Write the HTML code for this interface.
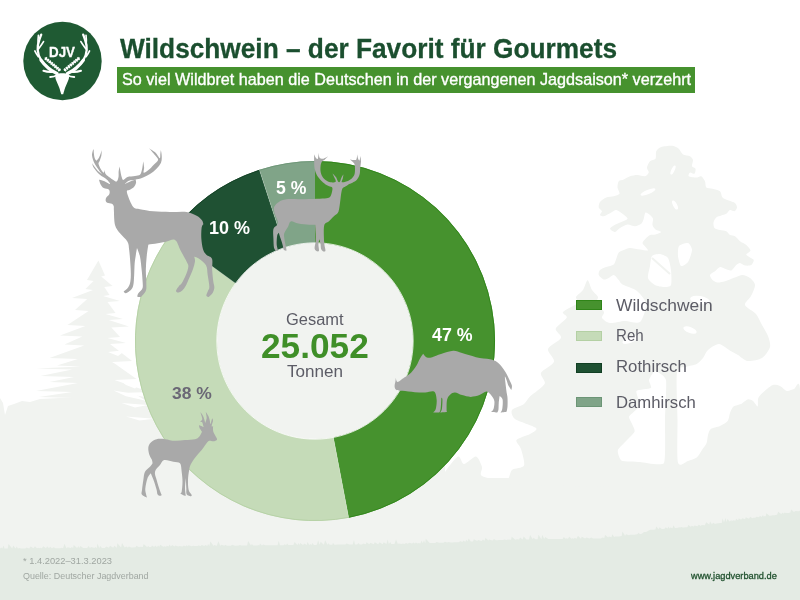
<!DOCTYPE html>
<html lang="de"><head><meta charset="utf-8"><title>Wildschwein – der Favorit für Gourmets</title>
<style>
html,body{margin:0;padding:0;}
body{width:800px;height:600px;overflow:hidden;position:relative;background:#fff;font-family:"Liberation Sans",sans-serif;}
svg.g{position:absolute;left:0;top:0;}
.t{position:absolute;white-space:nowrap;line-height:1;margin:0;transform-origin:0 0;}
.title{left:119px;top:31px;font-size:28px;font-weight:bold;color:#1b4f2f;letter-spacing:-0.2px;}
.bar{position:absolute;left:117px;top:67px;width:578px;height:26px;background:#46922e;}
.sub{left:122px;top:71px;font-size:17px;color:#fff;}
.pct{font-size:17px;font-weight:bold;color:#fff;}
.leg{font-size:18px;color:#5a5a64;left:615px;}
.sw{position:absolute;left:576px;width:26px;height:10px;}
.foot{font-size:10.5px;color:#9aa39c;left:23px;}
</style></head><body>
<svg class="g" width="800" height="600" viewBox="0 0 800 600">
<rect x="0" y="478" width="800" height="122" fill="#f1f3f0"/>
<path d="M0.0,398.0 L3.0,403.0 L5.0,415.0 L8.0,406.0 L14.0,404.0 L22.0,401.0 L30.0,402.0 L40.0,399.0 L60.0,398.0 L100.0,398.0 L140.0,398.0 L200.0,400.0 L445.0,400.0 L445.0,480.0 L0.0,480.0Z" fill="#f1f3f0"/>
<path d="M98.4,260.5 L105.0,275.5 L101.2,276.5 L112.5,286.0 L104.3,287.0 L109.5,295.0 L103.1,296.0 L120.0,301.0 L107.5,302.0 L115.5,313.0 L105.6,314.0 L123.0,319.0 L108.7,320.0 L129.0,326.5 L111.3,327.5 L120.0,337.0 L107.5,338.0 L126.0,343.0 L110.0,344.0 L132.0,361.0 L112.5,362.0 L136.5,379.0 L114.4,380.0 L150.0,392.0 L120.1,393.0 L158.0,399.0 L123.4,400.0 L158.0,402.0 L39.0,402.0 L73.5,398.0 L39.0,397.0 L72.2,392.0 L36.0,391.0 L77.9,383.0 L49.5,382.0 L74.1,377.0 L40.5,376.0 L72.2,369.5 L36.0,368.5 L81.0,366.5 L57.0,365.5 L77.9,359.0 L49.5,358.0 L84.2,345.5 L64.5,344.5 L82.3,336.5 L60.0,335.5 L85.4,326.0 L67.5,325.0 L88.6,311.0 L75.0,310.0 L87.3,299.0 L72.0,298.0 L93.0,290.0 L85.5,289.0 L93.6,281.0 L87.0,280.0Z" fill="#f1f3f0"/>
<path d="M121.5,381.6 L144.0,380.5 L135.0,388.4 L126.0,385.0Z" fill="#ffffff"/>
<path d="M113.6,390.6 L135.0,394.0 L146.0,400.8 L126.0,396.3Z" fill="#ffffff"/>
<path d="M121.5,403.0 L148.0,405.0 L135.0,407.5Z" fill="#ffffff"/>
<path d="M126.0,416.5 L154.0,418.8 L139.5,420.6Z" fill="#ffffff"/>
<path d="M108.0,352.0 L126.0,350.0 L118.0,356.0Z" fill="#ffffff"/>
<path d="M112.0,362.0 L132.0,362.5 L122.0,366.5Z" fill="#ffffff"/>
<path d="M444.50,482.00 C397.10,480.80 442.70,476.40 444.50,473.00 C446.30,469.60 455.40,457.70 458.00,456.50 C460.60,455.30 461.60,464.00 464.00,464.00 C466.40,464.00 473.60,456.10 476.00,456.50 C478.40,456.90 481.20,464.40 482.00,467.00 C482.80,469.60 478.80,474.20 482.00,476.00 C485.20,477.80 502.00,481.30 506.00,480.50 C510.00,479.70 509.60,472.00 512.00,470.00 C514.40,468.00 522.80,468.30 524.00,465.50 C525.20,462.70 522.00,452.40 521.00,449.00 C520.00,445.60 515.30,442.00 516.50,440.00 C517.70,438.00 527.40,435.60 530.00,434.00 C532.60,432.40 538.00,430.00 536.00,428.00 C534.00,426.00 518.20,421.40 515.00,419.00 C511.80,416.60 510.80,412.00 512.00,410.00 C513.20,408.00 521.60,405.79 524.00,404.00 C526.40,402.21 527.24,399.29 530.00,396.60 C532.76,393.91 543.23,386.97 544.70,383.80 C546.17,380.63 539.76,375.75 541.00,372.80 C542.24,369.85 553.07,364.87 554.00,361.70 C554.93,358.53 547.07,352.16 548.00,349.00 C548.93,345.84 559.97,340.71 561.00,338.00 C562.03,335.29 554.94,331.41 555.70,328.70 C556.46,325.99 565.73,319.93 566.70,317.70 C567.67,315.47 561.53,313.96 563.00,312.00 C564.47,310.04 575.97,305.00 577.70,303.00 C579.43,301.00 575.29,298.73 576.00,297.00 C576.71,295.27 581.45,292.23 583.00,290.00 C584.55,287.77 586.40,280.30 587.60,280.30 C588.80,280.30 590.61,287.77 592.00,290.00 C593.39,292.23 597.47,295.27 598.00,297.00 C598.53,298.73 595.20,301.00 596.00,303.00 C596.80,305.00 603.20,310.00 604.00,312.00 C604.80,314.00 601.20,316.53 602.00,318.00 C602.80,319.47 606.93,322.60 610.00,323.00 C613.07,323.40 621.00,321.13 625.00,321.00 C629.00,320.87 637.20,324.27 640.00,322.00 C642.80,319.73 646.40,308.13 646.00,304.00 C645.60,299.87 640.13,293.60 637.00,291.00 C633.87,288.40 624.93,285.97 622.50,284.50 C620.07,283.03 619.92,281.27 618.75,280.00 C617.58,278.73 615.08,275.27 613.75,275.00 C612.42,274.73 610.08,277.40 608.75,278.00 C607.42,278.60 605.08,279.90 603.75,279.50 C602.42,279.10 599.25,276.27 598.75,275.00 C598.25,273.73 599.00,271.07 600.00,270.00 C601.00,268.93 604.42,267.73 606.25,267.00 C608.08,266.27 612.42,265.60 613.75,264.50 C615.08,263.40 615.58,260.35 616.25,258.75 C616.92,257.15 617.75,253.67 618.75,252.50 C619.75,251.33 622.25,250.60 623.75,250.00 C625.25,249.40 627.83,248.07 630.00,248.00 C632.17,247.93 637.60,249.17 640.00,249.50 C642.40,249.83 647.27,250.83 648.00,250.50 C648.73,250.17 646.23,248.00 645.50,247.00 C644.77,246.00 642.50,244.10 642.50,243.00 C642.50,241.90 644.50,239.82 645.50,238.75 C646.50,237.68 648.67,235.57 650.00,235.00 C651.33,234.43 654.00,234.90 655.50,234.50 C657.00,234.10 661.25,232.67 661.25,232.00 C661.25,231.33 656.67,230.43 655.50,229.50 C654.33,228.57 652.83,226.43 652.50,225.00 C652.17,223.57 653.33,220.08 653.00,218.75 C652.67,217.42 651.00,215.83 650.00,215.00 C649.00,214.17 646.33,212.00 645.50,212.50 C644.67,213.00 644.32,217.25 643.75,218.75 C643.18,220.25 642.42,222.75 641.25,223.75 C640.08,224.75 636.83,226.15 635.00,226.25 C633.17,226.35 629.50,224.27 627.50,224.50 C625.50,224.73 621.67,227.00 620.00,228.00 C618.33,229.00 616.33,231.90 615.00,232.00 C613.67,232.10 610.17,229.62 610.00,228.75 C609.83,227.88 612.42,226.33 613.75,225.50 C615.08,224.67 618.17,223.40 620.00,222.50 C621.83,221.60 627.17,219.92 627.50,218.75 C627.83,217.58 624.00,214.92 622.50,213.75 C621.00,212.58 617.75,210.17 616.25,210.00 C614.75,209.83 612.92,211.67 611.25,212.50 C609.58,213.33 605.25,215.92 603.75,216.25 C602.25,216.58 600.23,215.67 600.00,215.00 C599.77,214.33 602.17,212.25 602.00,211.25 C601.83,210.25 599.02,208.73 598.75,207.50 C598.48,206.27 599.00,203.33 600.00,202.00 C601.00,200.67 604.42,198.27 606.25,197.50 C608.08,196.73 611.98,196.75 613.75,196.25 C615.52,195.75 619.00,194.92 619.50,193.75 C620.00,192.58 617.60,189.17 617.50,187.50 C617.40,185.83 617.92,182.32 618.75,181.25 C619.58,180.18 622.25,180.17 623.75,179.50 C625.25,178.83 628.17,176.85 630.00,176.25 C631.83,175.65 635.50,175.00 637.50,175.00 C639.50,175.00 643.50,176.58 645.00,176.25 C646.50,175.92 648.48,173.67 648.75,172.50 C649.02,171.33 646.83,169.00 647.00,167.50 C647.17,166.00 648.87,162.42 650.00,161.25 C651.13,160.08 654.67,160.08 655.50,158.75 C656.33,157.42 655.48,152.82 656.25,151.25 C657.02,149.68 659.08,147.73 661.25,147.00 C663.42,146.27 670.17,145.52 672.50,145.75 C674.83,145.98 677.35,147.58 678.75,148.75 C680.15,149.92 681.50,153.50 683.00,154.50 C684.50,155.50 688.67,155.52 690.00,156.25 C691.33,156.98 692.73,158.67 693.00,160.00 C693.27,161.33 691.67,165.08 692.00,166.25 C692.33,167.42 695.17,167.75 695.50,168.75 C695.83,169.75 695.23,173.25 694.50,173.75 C693.77,174.25 690.77,172.17 690.00,172.50 C689.23,172.83 687.92,175.58 688.75,176.25 C689.58,176.92 694.58,177.50 696.25,177.50 C697.92,177.50 700.08,175.75 701.25,176.25 C702.42,176.75 704.33,179.75 705.00,181.25 C705.67,182.75 705.25,186.50 706.25,187.50 C707.25,188.50 710.67,188.25 712.50,188.75 C714.33,189.25 718.67,190.08 720.00,191.25 C721.33,192.42 721.33,196.27 722.50,197.50 C723.67,198.73 727.08,199.77 728.75,200.50 C730.42,201.23 733.90,202.07 735.00,203.00 C736.10,203.93 737.07,206.40 737.00,207.50 C736.93,208.60 735.43,210.92 734.50,211.25 C733.57,211.58 731.10,209.67 730.00,210.00 C728.90,210.33 727.42,213.02 726.25,213.75 C725.08,214.48 722.58,215.00 721.25,215.50 C719.92,216.00 717.28,216.57 716.25,217.50 C715.22,218.43 713.73,221.10 713.50,222.50 C713.27,223.90 713.63,227.00 714.50,228.00 C715.37,229.00 718.43,229.57 720.00,230.00 C721.57,230.43 724.92,230.58 726.25,231.25 C727.58,231.92 728.83,234.33 730.00,235.00 C731.17,235.67 733.67,235.42 735.00,236.25 C736.33,237.08 738.50,240.08 740.00,241.25 C741.50,242.42 744.85,243.77 746.25,245.00 C747.65,246.23 750.50,249.23 750.50,250.50 C750.50,251.77 746.32,253.57 746.25,254.50 C746.18,255.43 749.00,256.77 750.00,257.50 C751.00,258.23 753.58,259.00 753.75,260.00 C753.92,261.00 752.42,264.27 751.25,265.00 C750.08,265.73 746.50,265.77 745.00,265.50 C743.50,265.23 741.17,263.07 740.00,263.00 C738.83,262.93 737.42,264.00 736.25,265.00 C735.08,266.00 732.75,270.00 731.25,270.50 C729.75,271.00 726.50,269.22 725.00,268.75 C723.50,268.28 721.33,266.67 720.00,267.00 C718.67,267.33 716.33,270.18 715.00,271.25 C713.67,272.32 710.33,273.83 710.00,275.00 C709.67,276.17 711.50,279.00 712.50,280.00 C713.50,281.00 715.83,282.33 717.50,282.50 C719.17,282.67 722.67,281.92 725.00,281.25 C727.33,280.58 732.67,278.33 735.00,277.50 C737.33,276.67 740.50,274.93 742.50,275.00 C744.50,275.07 748.33,276.67 750.00,278.00 C751.67,279.33 754.87,282.60 755.00,285.00 C755.13,287.40 752.33,293.33 751.00,296.00 C749.67,298.67 744.33,302.60 745.00,305.00 C745.67,307.40 753.73,311.33 756.00,314.00 C758.27,316.67 760.40,322.07 762.00,325.00 C763.60,327.93 766.93,333.07 768.00,336.00 C769.07,338.93 770.80,344.07 770.00,347.00 C769.20,349.93 764.99,356.13 762.00,358.00 C759.01,359.87 750.80,361.40 747.60,361.00 C744.40,360.60 740.27,356.33 738.00,355.00 C735.73,353.67 733.13,352.47 730.60,351.00 C728.07,349.53 722.01,344.13 719.00,344.00 C715.99,343.87 710.13,348.13 708.00,350.00 C705.87,351.87 704.51,356.13 703.00,358.00 C701.49,359.87 698.97,362.80 696.70,364.00 C694.43,365.20 688.63,365.87 686.00,367.00 C683.37,368.13 678.13,365.43 677.00,372.50 C675.87,379.57 677.37,407.99 677.50,420.00 C677.63,432.01 676.60,457.13 678.00,462.60 C679.40,468.07 685.51,461.68 688.00,461.00 C690.49,460.32 694.83,458.97 696.70,457.50 C698.57,456.03 700.68,451.93 702.00,450.00 C703.32,448.07 705.80,445.00 706.60,443.00 C707.40,441.00 707.44,436.87 708.00,435.00 C708.56,433.13 709.20,430.20 710.80,429.00 C712.40,427.80 717.73,427.11 720.00,426.00 C722.27,424.89 726.47,422.43 727.80,420.70 C729.13,418.97 729.24,414.89 730.00,413.00 C730.76,411.11 732.03,407.70 733.50,406.50 C734.97,405.30 739.12,404.95 741.00,404.00 C742.88,403.05 746.00,399.80 747.60,399.40 C749.20,399.00 751.67,400.05 753.00,401.00 C754.33,401.95 756.93,406.77 757.60,406.50 C758.27,406.23 757.63,400.53 758.00,399.00 C758.37,397.47 759.20,396.33 760.40,395.00 C761.60,393.67 765.32,390.33 767.00,389.00 C768.68,387.67 771.27,385.40 773.00,385.00 C774.73,384.60 778.13,385.20 780.00,386.00 C781.87,386.80 785.13,390.60 787.00,391.00 C788.87,391.40 792.27,389.20 794.00,389.00 C795.73,388.80 799.20,377.10 800.00,389.50 C800.80,401.90 847.40,469.67 800.00,482.00 C752.60,494.33 491.90,483.20 444.50,482.00Z" fill="#f1f3f0"/>
<path d="M655.00,371.00 C653.58,371.00 649.33,378.58 649.00,380.00 C648.67,381.42 652.05,387.08 651.00,388.00 C649.95,388.92 637.32,389.52 636.40,391.00 C635.48,392.48 640.62,403.65 640.00,405.80 C639.38,407.95 629.45,414.66 629.00,416.80 C628.55,418.94 635.52,428.75 634.60,431.50 C633.68,434.25 619.08,447.36 618.00,449.80 C616.92,452.24 619.87,459.78 621.70,460.80 C623.53,461.82 636.48,461.82 640.00,462.00 C643.52,462.18 661.92,466.50 664.00,463.00 C666.08,459.50 664.83,426.92 665.00,420.00 C665.17,413.08 666.83,384.08 666.00,380.00 C665.17,375.92 656.42,371.00 655.00,371.00Z" fill="#ffffff"/>
<ellipse cx="673" cy="170" rx="5" ry="1.6" transform="rotate(-65 673 170)" fill="#ffffff"/>
<ellipse cx="648" cy="192" rx="8" ry="2.2" transform="rotate(-22 648 192)" fill="#ffffff"/>
<ellipse cx="675" cy="205" rx="5" ry="2" transform="rotate(62 675 205)" fill="#ffffff"/>
<ellipse cx="690" cy="330" rx="7" ry="3" transform="rotate(20 690 330)" fill="#ffffff"/>
<ellipse cx="700" cy="300" rx="10" ry="4" transform="rotate(10 700 300)" fill="#ffffff"/>
<ellipse cx="630" cy="340" rx="8" ry="3" transform="rotate(-20 630 340)" fill="#ffffff"/>
<path d="M652.00,256.00 C653.17,254.60 658.13,253.77 660.00,254.00 C661.87,254.23 666.72,256.13 668.00,258.00 C669.28,259.87 670.65,266.85 671.00,270.00 C671.35,273.15 671.82,283.02 671.00,285.00 C670.18,286.98 665.87,287.00 664.00,287.00 C662.13,287.00 656.87,286.05 655.00,285.00 C653.13,283.95 648.58,280.22 648.00,278.00 C647.42,275.78 649.53,268.57 650.00,266.00 C650.47,263.43 650.83,257.40 652.00,256.00Z" fill="#ffffff"/>
<path d="M652,258 L670,274" stroke="#f1f3f0" stroke-width="2" fill="none"/>
<path d="M679.00,246.00 C680.17,244.48 686.48,242.53 688.00,243.00 C689.52,243.47 692.00,247.78 692.00,250.00 C692.00,252.22 689.28,260.13 688.00,262.00 C686.72,263.87 682.17,266.70 681.00,266.00 C679.83,265.30 678.23,258.33 678.00,256.00 C677.77,253.67 677.83,247.52 679.00,246.00Z" fill="#ffffff"/>
<path d="M0.0,600.0 L0.0,548.5 L1.2,547.5 L2.3,548.5 L3.6,545.5 L4.5,548.5 L6.0,548.5 L7.7,548.5 L8.5,544.0 L12.2,548.4 L13.3,545.4 L15.5,548.4 L16.8,546.4 L17.9,548.4 L19.4,547.9 L21.2,548.4 L22.5,548.4 L23.4,548.4 L24.3,548.4 L25.4,548.4 L26.5,547.4 L29.2,548.4 L30.6,546.4 L33.5,548.3 L34.9,546.3 L37.0,548.3 L38.5,547.8 L39.2,548.3 L40.3,547.8 L41.9,548.3 L43.3,546.3 L46.0,548.3 L47.1,546.3 L49.0,548.3 L50.1,546.8 L52.0,548.2 L53.5,547.2 L55.7,548.2 L57.2,548.2 L60.2,548.2 L61.5,547.7 L63.0,548.2 L64.5,543.7 L66.4,548.2 L67.7,547.2 L70.9,548.1 L71.8,547.1 L73.1,548.1 L73.7,545.1 L77.1,548.1 L78.5,546.1 L79.1,548.1 L80.5,546.1 L83.3,548.1 L84.5,548.1 L87.2,548.1 L88.5,546.1 L90.0,548.0 L91.1,547.0 L94.5,548.0 L95.1,547.0 L96.8,548.0 L97.4,543.5 L99.3,548.0 L100.2,546.0 L101.9,548.0 L103.5,548.0 L104.8,547.9 L106.3,546.4 L109.0,547.8 L110.0,545.8 L113.2,547.7 L114.4,545.7 L116.7,547.7 L117.4,543.2 L121.1,547.6 L122.0,543.1 L124.7,547.5 L126.2,546.5 L127.8,547.4 L128.9,546.4 L131.2,547.4 L132.6,547.4 L135.6,547.3 L136.3,545.8 L139.2,547.2 L139.8,546.7 L142.7,547.1 L143.7,544.1 L147.0,547.1 L148.4,546.1 L149.1,547.0 L150.7,547.0 L151.2,547.0 L152.0,545.5 L154.3,546.9 L155.1,545.4 L156.8,546.9 L158.2,545.4 L159.4,546.8 L160.1,544.8 L163.4,546.7 L164.4,546.2 L166.0,546.7 L166.8,545.7 L168.5,546.6 L169.7,544.6 L170.7,546.6 L172.3,545.1 L174.4,546.5 L175.4,545.5 L178.5,546.4 L179.2,545.9 L182.4,546.4 L183.9,545.4 L185.5,546.3 L186.9,545.3 L187.6,546.2 L188.5,545.2 L191.7,546.2 L193.2,545.7 L194.5,546.1 L196.0,546.1 L197.4,546.1 L198.4,545.6 L200.7,546.0 L201.8,545.0 L204.3,546.0 L205.3,545.0 L207.3,545.9 L208.1,543.9 L209.3,545.9 L210.4,541.4 L213.7,545.9 L214.3,544.9 L216.8,545.8 L218.4,541.3 L220.2,545.8 L221.7,544.8 L224.4,545.8 L225.1,544.8 L227.0,545.7 L228.5,545.7 L230.7,545.7 L232.2,544.7 L234.9,545.7 L235.6,545.7 L238.8,545.6 L239.9,545.1 L241.4,545.6 L242.5,545.6 L244.4,545.6 L245.4,545.6 L247.1,545.5 L248.1,541.0 L251.0,545.5 L251.8,544.0 L253.3,545.5 L254.1,545.5 L257.3,545.4 L258.7,544.9 L259.3,545.4 L260.0,543.4 L262.0,545.4 L263.2,544.4 L265.3,545.3 L266.4,545.3 L269.3,545.3 L270.7,545.3 L273.2,545.3 L273.9,545.3 L275.4,545.2 L276.8,545.2 L277.6,545.2 L278.7,540.7 L280.0,545.2 L280.9,545.2 L283.6,545.2 L284.5,544.2 L286.1,545.1 L287.1,543.6 L288.4,545.1 L289.7,545.1 L291.3,545.1 L292.5,545.1 L293.4,545.1 L294.6,542.1 L297.4,545.0 L298.6,543.0 L299.5,545.0 L300.2,543.0 L303.1,545.0 L304.1,543.5 L306.8,544.9 L307.4,541.9 L309.4,544.9 L310.7,543.9 L311.5,544.9 L312.4,542.9 L313.9,544.9 L315.4,544.9 L316.8,544.8 L318.2,540.3 L319.5,544.8 L320.7,541.8 L323.8,544.8 L325.2,540.3 L327.5,544.7 L328.6,543.2 L329.7,544.7 L330.8,544.7 L332.3,544.7 L333.0,542.7 L334.5,544.7 L335.8,544.7 L337.5,544.6 L338.4,544.6 L341.6,544.6 L343.1,544.6 L345.3,544.5 L346.5,543.5 L349.3,544.5 L350.9,544.5 L352.7,544.5 L354.0,540.0 L355.0,544.5 L356.5,544.5 L357.1,544.4 L358.6,542.9 L359.6,544.4 L360.4,544.4 L362.0,544.4 L363.1,543.4 L365.8,544.3 L366.6,542.3 L369.3,544.3 L370.4,542.8 L373.7,544.3 L374.8,542.3 L378.1,544.2 L379.6,542.2 L382.5,544.2 L383.8,542.2 L386.4,544.1 L387.7,539.6 L388.8,544.1 L390.3,542.1 L391.2,544.1 L392.3,544.1 L394.4,544.1 L396.0,539.6 L397.9,544.0 L398.6,543.5 L401.7,543.9 L402.9,543.4 L404.5,543.9 L406.0,542.9 L407.9,543.8 L409.2,542.8 L412.0,543.6 L413.5,542.6 L414.8,543.6 L415.9,542.6 L417.7,543.5 L418.9,543.0 L420.3,543.4 L421.7,540.4 L422.7,543.3 L424.0,540.3 L425.2,543.2 L425.8,538.7 L429.7,543.1 L431.2,543.1 L432.7,543.0 L433.8,543.0 L435.3,542.9 L436.5,541.9 L439.2,542.8 L440.8,542.8 L443.3,542.7 L444.8,541.7 L447.3,542.6 L448.1,542.1 L451.1,542.4 L452.6,542.4 L453.7,542.3 L454.6,542.3 L456.7,542.2 L457.5,542.2 L459.4,542.0 L460.0,541.0 L462.5,541.9 L463.1,540.4 L465.4,541.7 L466.4,539.7 L467.6,541.6 L468.6,538.6 L470.9,541.5 L472.4,541.5 L473.1,541.3 L473.8,539.3 L477.3,541.1 L478.0,540.1 L481.7,540.9 L483.0,539.4 L484.6,540.8 L485.5,537.8 L488.3,540.6 L489.0,539.6 L492.7,540.4 L493.9,538.9 L496.0,540.2 L497.3,540.2 L499.3,540.0 L500.6,540.0 L503.0,539.9 L504.2,539.4 L506.8,539.9 L507.6,539.4 L511.0,539.8 L511.7,536.8 L515.4,539.7 L516.9,539.2 L519.0,539.6 L520.1,537.6 L522.6,539.5 L523.7,536.5 L526.5,539.5 L527.2,539.5 L529.0,539.4 L530.1,534.9 L532.8,539.3 L533.5,537.8 L535.5,539.3 L537.0,539.3 L537.6,539.2 L538.5,534.7 L541.4,539.2 L542.3,534.7 L544.2,539.1 L545.2,537.1 L548.2,539.0 L549.2,539.0 L552.3,539.0 L553.1,539.0 L555.8,538.9 L557.0,538.9 L560.1,538.9 L560.9,538.9 L562.6,538.9 L563.8,536.9 L565.5,538.8 L566.7,538.3 L567.9,538.8 L569.3,536.8 L571.3,538.8 L572.4,538.3 L573.8,538.8 L574.7,537.8 L576.5,538.7 L578.0,535.7 L580.9,538.7 L581.8,536.7 L585.1,538.6 L586.4,537.6 L589.6,538.6 L591.1,537.6 L593.3,538.6 L594.5,538.6 L597.1,538.5 L597.8,538.5 L601.0,538.4 L602.1,537.4 L604.3,538.0 L605.1,535.0 L608.2,537.6 L608.9,536.6 L611.5,537.2 L612.2,534.2 L614.2,536.9 L614.9,536.4 L618.2,536.5 L618.8,536.5 L621.7,536.1 L622.4,531.6 L625.1,535.7 L626.0,534.2 L629.2,535.2 L629.9,534.7 L633.3,534.8 L634.6,534.8 L637.2,534.3 L638.8,532.8 L639.7,534.0 L641.2,534.0 L642.8,532.9 L643.9,531.9 L645.1,532.0 L646.1,532.0 L649.2,530.3 L650.2,529.8 L652.4,529.8 L653.5,529.8 L655.4,529.6 L656.3,526.6 L658.6,529.3 L659.6,527.3 L661.7,529.1 L663.0,529.1 L664.6,528.8 L665.7,527.3 L667.5,528.6 L668.4,526.6 L669.5,528.4 L670.4,527.4 L672.5,528.2 L673.6,525.2 L674.9,528.0 L675.6,528.0 L677.9,527.8 L679.1,527.3 L680.2,527.6 L681.3,527.1 L682.7,527.4 L683.7,527.4 L685.5,527.2 L686.8,527.2 L687.6,527.0 L688.2,525.0 L690.8,526.7 L691.7,525.7 L693.8,526.5 L694.6,525.5 L697.4,526.2 L698.9,524.7 L700.8,525.9 L701.7,524.9 L704.8,525.3 L706.2,522.3 L709.2,524.6 L710.1,521.6 L711.9,524.2 L713.1,522.7 L714.7,523.8 L715.4,523.8 L717.8,523.3 L719.0,523.3 L719.8,523.0 L721.1,523.0 L721.9,522.7 L722.5,518.2 L724.0,522.4 L725.5,517.9 L726.5,522.0 L727.5,519.0 L729.7,521.5 L731.3,520.0 L731.8,521.2 L733.2,520.2 L735.4,520.7 L736.1,518.7 L738.1,520.3 L738.8,518.3 L741.1,519.8 L742.2,518.3 L745.0,519.3 L745.8,517.3 L748.9,518.7 L750.3,516.7 L752.3,518.2 L753.2,517.7 L755.3,517.8 L756.4,516.8 L759.1,517.3 L759.9,515.8 L761.5,516.9 L763.0,514.9 L763.6,516.6 L764.9,516.1 L765.7,516.3 L766.4,513.3 L769.4,515.8 L770.3,515.8 L772.9,515.3 L774.4,515.3 L777.1,514.7 L778.1,511.7 L781.2,514.0 L782.8,512.5 L783.2,513.7 L784.2,512.7 L787.6,513.0 L788.6,513.0 L790.4,512.5 L791.1,509.5 L794.0,512.0 L795.3,511.0 L798.5,511.2 L799.7,510.7 L800.0,511.0 L800.0,600.0Z" fill="#e4ebe4"/>

<circle cx="315" cy="341" r="99" fill="#f1f3f0"/>
<path d="M315.00,161.00 A180,180 0 0 1 348.73,517.81 L333.36,437.26 A98,98 0 0 0 315.00,243.00 Z" fill="#46922e"/>
<path d="M348.73,517.81 A180,180 0 0 1 169.38,235.20 L235.72,283.40 A98,98 0 0 0 333.36,437.26 Z" fill="#c5dbb8"/>
<path d="M169.38,235.20 A180,180 0 0 1 259.38,169.81 L284.72,247.80 A98,98 0 0 0 235.72,283.40 Z" fill="#1f5133"/>
<path d="M259.38,169.81 A180,180 0 0 1 315.00,161.00 L315.00,243.00 A98,98 0 0 0 284.72,247.80 Z" fill="#80a488"/>
<path d="M315.00,161.45 A179.55,179.55 0 0 1 348.64,517.37" fill="none" stroke="#2f8418" stroke-width="0.9" stroke-opacity="1"/>
<path d="M348.64,517.37 A179.55,179.55 0 0 1 169.74,235.46" fill="none" stroke="#b4d0a4" stroke-width="0.9" stroke-opacity="1"/>
<path d="M169.74,235.46 A179.55,179.55 0 0 1 259.52,170.24" fill="none" stroke="#123f24" stroke-width="0.9" stroke-opacity="1"/>
<path d="M259.52,170.24 A179.55,179.55 0 0 1 315.00,161.45" fill="none" stroke="#6c9576" stroke-width="0.9" stroke-opacity="1"/>
<path d="M315.00,242.80 A98.2,98.2 0 1 1 314.98,242.80" fill="none" stroke="#ffffff" stroke-width="1.0" stroke-opacity="0.75"/>
<line x1="348.73" y1="517.81" x2="333.36" y2="437.26" stroke="#ffffff" stroke-opacity="0.22" stroke-width="0.8"/>
<line x1="169.38" y1="235.20" x2="235.72" y2="283.40" stroke="#ffffff" stroke-opacity="0.22" stroke-width="0.8"/>
<line x1="259.38" y1="169.81" x2="284.72" y2="247.80" stroke="#ffffff" stroke-opacity="0.22" stroke-width="0.8"/>

<path d="M105.62,200.25 C105.50,199.33 105.88,198.29 106.50,197.25 C107.12,196.21 108.96,195.25 109.38,194.00 C109.79,192.75 109.94,190.73 109.00,189.75 C108.06,188.77 105.15,189.02 103.75,188.12 C102.35,187.23 101.42,185.77 100.62,184.38 C99.83,182.98 99.00,179.75 99.00,179.75 C99.00,179.75 101.92,180.29 103.75,181.00 C105.58,181.71 109.32,184.08 110.00,184.00 C110.68,183.92 107.83,180.50 107.83,180.50 C107.83,180.50 106.44,179.18 105.17,178.25 C103.89,177.32 101.69,176.17 100.17,174.92 C98.64,173.67 97.18,172.14 96.00,170.75 C94.82,169.36 93.69,167.83 93.08,166.58 C92.47,165.33 92.33,163.25 92.33,163.25 C92.33,163.25 93.44,165.33 94.33,166.58 C95.22,167.83 96.42,169.50 97.67,170.75 C98.92,172.00 101.83,174.08 101.83,174.08 C101.83,174.08 99.61,171.10 98.50,169.50 C97.39,167.90 96.07,166.10 95.17,164.50 C94.26,162.90 93.61,161.44 93.08,159.92 C92.56,158.39 92.07,156.79 92.00,155.33 C91.93,153.88 92.39,152.21 92.67,151.17 C92.94,150.12 93.67,149.08 93.67,149.08 C93.67,149.08 93.74,152.14 93.92,153.67 C94.10,155.19 94.33,157.07 94.75,158.25 C95.17,159.43 96.42,160.75 96.42,160.75 C96.42,160.75 98.22,159.01 98.92,157.83 C99.61,156.65 100.14,154.94 100.58,153.67 C101.03,152.39 101.58,150.17 101.58,150.17 C101.58,150.17 101.72,153.57 101.42,155.33 C101.11,157.10 100.24,159.33 99.75,160.75 C99.26,162.17 98.36,162.51 98.50,163.83 C98.64,165.15 99.72,167.19 100.58,168.67 C101.44,170.14 103.01,172.50 103.67,172.67 C104.32,172.83 104.50,169.67 104.50,169.67 C104.50,169.67 104.89,172.97 105.83,174.33 C106.78,175.69 108.68,176.72 110.17,177.83 C111.65,178.94 113.61,180.44 114.75,181.00 C115.89,181.56 116.38,181.83 117.00,181.17 C117.62,180.50 118.22,178.67 118.50,177.00 C118.78,175.33 118.46,172.90 118.67,171.17 C118.87,169.43 119.75,166.58 119.75,166.58 C119.75,166.58 120.10,169.43 120.42,171.17 C120.74,172.90 121.18,175.54 121.67,177.00 C122.15,178.46 122.36,179.92 123.33,179.92 C124.31,179.92 125.56,177.65 127.50,177.00 C129.44,176.35 132.92,176.38 135.00,176.00 C137.08,175.62 138.85,175.75 140.00,174.75 C141.15,173.75 141.42,171.62 141.88,170.00 C142.33,168.38 142.52,166.46 142.75,165.00 C142.98,163.54 143.25,161.25 143.25,161.25 C143.25,161.25 144.04,165.58 144.12,167.50 C144.21,169.42 142.98,172.38 143.75,172.75 C144.52,173.12 147.08,171.08 148.75,169.75 C150.42,168.42 152.19,166.42 153.75,164.75 C155.31,163.08 158.02,161.48 158.12,159.75 C158.23,158.02 155.83,156.25 154.38,154.38 C152.92,152.50 149.38,148.50 149.38,148.50 C149.38,148.50 153.90,151.12 155.62,152.75 C157.35,154.38 158.96,158.08 159.75,158.25 C160.54,158.42 160.19,155.12 160.38,153.75 C160.56,152.38 160.88,150.00 160.88,150.00 C160.88,150.00 161.73,154.12 161.75,156.25 C161.77,158.38 161.92,160.62 161.00,162.75 C160.08,164.88 158.08,167.12 156.25,169.00 C154.42,170.88 152.29,172.54 150.00,174.00 C147.71,175.46 145.00,176.79 142.50,177.75 C140.00,178.71 137.25,179.25 135.00,179.75 C132.75,180.25 130.71,180.04 129.00,180.75 C127.29,181.46 124.75,184.00 124.75,184.00 C124.75,184.00 129.69,181.77 131.50,181.00 C133.31,180.23 135.62,179.38 135.62,179.38 C135.62,179.38 136.31,181.81 136.00,183.12 C135.69,184.44 134.85,186.10 133.75,187.25 C132.65,188.40 130.52,189.38 129.38,190.00 C128.23,190.62 127.08,189.96 126.88,191.00 C126.67,192.04 127.50,194.33 128.12,196.25 C128.75,198.17 129.58,200.52 130.62,202.50 C131.67,204.48 132.81,207.01 134.38,208.12 C135.94,209.24 136.84,208.63 140.00,209.17 C143.16,209.70 148.33,210.86 153.33,211.33 C158.33,211.81 164.44,211.89 170.00,212.00 C175.56,212.11 182.22,211.36 186.67,212.00 C191.11,212.64 194.11,214.44 196.67,215.83 C199.22,217.22 200.89,218.94 202.00,220.33 C203.11,221.72 203.33,224.17 203.33,224.17 C203.33,224.17 202.00,225.14 201.67,227.50 C201.33,229.86 201.11,234.72 201.33,238.33 C201.56,241.94 202.17,246.44 203.00,249.17 C203.83,251.89 204.83,253.08 206.33,254.67 C207.83,256.25 211.03,256.11 212.00,258.67 C212.97,261.22 211.94,266.17 212.17,270.00 C212.39,273.83 212.97,278.75 213.33,281.67 C213.69,284.58 214.44,285.61 214.33,287.50 C214.22,289.39 213.61,291.42 212.67,293.00 C211.72,294.58 208.67,297.00 208.67,297.00 C208.67,297.00 206.44,296.86 206.33,295.83 C206.22,294.81 207.50,292.36 208.00,290.83 C208.50,289.31 209.39,289.31 209.33,286.67 C209.28,284.03 208.22,278.56 207.67,275.00 C207.11,271.44 207.56,268.11 206.00,265.33 C204.44,262.56 200.31,259.78 198.33,258.33 C196.36,256.89 194.17,256.67 194.17,256.67 C194.17,256.67 195.25,259.11 195.00,261.33 C194.75,263.56 193.89,266.61 192.67,270.00 C191.44,273.39 188.94,278.83 187.67,281.67 C186.39,284.50 186.00,285.44 185.00,287.00 C184.00,288.56 182.83,290.06 181.67,291.00 C180.50,291.94 178.00,292.67 178.00,292.67 C178.00,292.67 175.81,291.97 176.00,290.83 C176.19,289.69 178.22,287.08 179.17,285.83 C180.11,284.58 180.56,285.14 181.67,283.33 C182.78,281.53 184.72,277.78 185.83,275.00 C186.94,272.22 188.19,268.89 188.33,266.67 C188.47,264.44 188.00,264.44 186.67,261.67 C185.33,258.89 182.28,253.61 180.33,250.00 C178.39,246.39 177.56,241.33 175.00,240.00 C172.44,238.67 169.44,241.22 165.00,242.00 C160.56,242.78 148.33,244.67 148.33,244.67 C148.33,244.67 147.08,252.44 146.67,256.67 C146.25,260.89 145.89,265.56 145.83,270.00 C145.78,274.44 146.33,279.86 146.33,283.33 C146.33,286.81 146.72,288.56 145.83,290.83 C144.94,293.11 141.00,297.00 141.00,297.00 C141.00,297.00 137.94,297.28 137.50,296.67 C137.06,296.06 137.50,294.72 138.33,293.33 C139.17,291.94 141.81,290.56 142.50,288.33 C143.19,286.11 142.64,283.06 142.50,280.00 C142.36,276.94 142.08,273.89 141.67,270.00 C141.25,266.11 140.78,260.33 140.00,256.67 C139.22,253.00 137.00,248.00 137.00,248.00 C137.00,248.00 136.22,252.44 135.83,255.00 C135.44,257.56 134.94,260.00 134.67,263.33 C134.39,266.67 134.39,271.39 134.17,275.00 C133.94,278.61 133.89,282.50 133.33,285.00 C132.78,287.50 132.08,288.61 130.83,290.00 C129.58,291.39 125.83,293.33 125.83,293.33 C125.83,293.33 123.39,292.50 123.67,291.67 C123.94,290.83 126.44,289.72 127.50,288.33 C128.56,286.94 129.44,285.56 130.00,283.33 C130.56,281.11 130.78,278.33 130.83,275.00 C130.89,271.67 130.61,267.50 130.33,263.33 C130.06,259.17 129.64,253.61 129.17,250.00 C128.69,246.39 129.03,244.44 127.50,241.67 C125.97,238.89 122.08,236.11 120.00,233.33 C117.92,230.56 116.02,228.89 115.00,225.00 C113.98,221.11 114.08,213.12 113.88,210.00 C113.67,206.88 114.08,207.29 113.75,206.25 C113.42,205.21 112.96,204.33 111.88,203.75 C110.79,203.17 108.29,203.33 107.25,202.75 C106.21,202.17 105.75,201.17 105.62,200.25Z" fill="#a9a9a9"/>
<path d="M325.72,184.42 C325.72,184.42 322.97,182.47 321.50,180.94 C320.04,179.41 318.06,177.27 316.92,175.25 C315.77,173.24 315.08,171.13 314.63,168.84 C314.17,166.54 314.24,163.95 314.17,161.50 C314.09,159.06 314.17,154.17 314.17,154.17 C314.17,154.17 315.21,157.07 315.82,157.83 C316.43,158.60 317.38,159.59 317.83,158.75 C318.29,157.91 318.57,152.79 318.57,152.79 C318.57,152.79 318.95,156.84 319.67,157.83 C320.39,158.83 321.50,158.98 322.88,158.75 C324.25,158.52 327.92,156.46 327.92,156.46 C327.92,156.46 325.70,158.83 324.71,159.67 C323.72,160.51 322.65,160.43 321.96,161.50 C321.27,162.57 320.78,164.25 320.59,166.09 C320.39,167.92 320.31,170.52 320.77,172.50 C321.23,174.49 322.14,176.51 323.34,178.00 C324.53,179.50 326.39,180.75 327.92,181.49 C329.45,182.22 331.19,182.40 332.50,182.40 C333.82,182.40 335.53,182.37 335.80,181.49 C336.08,180.60 334.70,178.43 334.15,177.09 C333.60,175.74 332.50,173.42 332.50,173.42 C332.50,173.42 335.07,175.74 335.99,177.09 C336.90,178.43 337.36,180.69 338.00,181.49 C338.65,182.28 339.29,182.44 339.84,181.85 C340.39,181.27 340.69,179.26 341.30,178.00 C341.92,176.75 343.50,174.34 343.50,174.34 C343.50,174.34 343.05,177.15 342.77,178.46 C342.50,179.78 341.12,181.75 341.85,182.22 C342.59,182.70 345.52,181.92 347.17,181.30 C348.82,180.69 350.53,179.72 351.76,178.55 C352.98,177.39 353.97,176.11 354.51,174.34 C355.04,172.56 355.04,169.75 354.96,167.92 C354.89,166.09 354.89,164.74 354.05,163.34 C353.21,161.93 349.92,159.49 349.92,159.49 C349.92,159.49 352.52,159.94 353.59,159.94 C354.66,159.94 355.73,160.45 356.34,159.49 C356.95,158.52 357.26,154.17 357.26,154.17 C357.26,154.17 357.79,157.71 358.17,158.75 C358.56,159.79 359.17,160.86 359.55,160.40 C359.93,159.94 360.47,156.00 360.47,156.00 C360.47,156.00 361.06,159.52 361.02,161.50 C360.97,163.49 360.42,165.78 360.19,167.92 C359.96,170.06 360.19,172.35 359.64,174.34 C359.09,176.32 358.08,178.43 356.89,179.84 C355.70,181.24 353.83,182.05 352.49,182.77 C351.14,183.49 348.82,184.15 348.82,184.15 C348.82,184.15 346.38,185.75 345.34,186.44 C344.30,187.13 343.28,187.08 342.59,188.27 C341.90,189.46 341.58,191.63 341.21,193.59 C340.85,195.55 340.85,196.99 340.39,200.01 C339.93,203.02 339.50,209.01 338.46,211.68 C337.42,214.35 335.75,214.39 334.12,216.02 C332.50,217.64 330.33,219.99 328.70,221.44 C327.08,222.88 325.18,222.34 324.37,224.69 C323.56,227.04 323.83,232.28 323.83,235.53 C323.83,238.78 324.10,241.67 324.37,244.20 C324.64,246.73 325.63,249.48 325.45,250.70 C325.27,251.93 323.28,251.57 323.28,251.57 C323.28,251.57 321.57,250.31 321.12,249.08 C320.66,247.85 320.85,245.83 320.57,244.20 C320.30,242.57 319.49,239.32 319.49,239.32 C319.49,239.32 318.50,242.30 318.41,244.20 C318.32,246.10 319.22,249.53 318.95,250.70 C318.68,251.88 316.78,251.25 316.78,251.25 C316.78,251.25 314.79,250.25 314.61,248.54 C314.43,246.82 315.52,243.48 315.70,240.95 C315.88,238.42 315.79,236.07 315.70,233.36 C315.61,230.65 315.15,224.69 315.15,224.69 C315.15,224.69 311.99,224.87 309.19,224.69 C306.39,224.51 301.42,224.15 298.35,223.60 C295.28,223.06 292.48,220.89 290.76,221.44 C289.05,221.98 289.14,224.87 288.05,226.86 C286.97,228.84 284.89,231.55 284.26,233.36 C283.63,235.17 284.08,235.89 284.26,237.70 C284.44,239.50 284.98,242.07 285.34,244.20 C285.71,246.33 286.70,249.55 286.43,250.49 C286.16,251.43 283.72,249.84 283.72,249.84 C283.72,249.84 282.72,245.32 282.09,243.12 C281.46,240.91 280.47,238.33 279.92,236.61 C279.38,234.90 278.84,232.82 278.84,232.82 C278.84,232.82 277.58,233.63 277.21,235.53 C276.85,237.43 276.58,241.76 276.67,244.20 C276.76,246.64 277.94,249.08 277.76,250.16 C277.58,251.25 275.59,250.70 275.59,250.70 C275.59,250.70 274.32,249.44 273.96,247.45 C273.60,245.47 273.51,241.85 273.42,238.78 C273.33,235.71 272.79,231.37 273.42,229.02 C274.05,226.68 276.49,225.95 277.21,224.69 C277.94,223.42 278.03,222.88 277.76,221.44 C277.49,219.99 276.22,217.82 275.59,216.02 C274.96,214.21 274.14,212.22 273.96,210.60 C273.78,208.97 273.69,207.71 274.50,206.26 C275.32,204.81 276.85,203.10 278.84,201.92 C280.83,200.75 282.81,199.67 286.43,199.21 C290.04,198.76 295.46,199.30 300.52,199.21 C305.58,199.12 312.44,198.85 316.78,198.67 C321.12,198.49 324.34,198.40 326.54,198.13 C328.73,197.86 329.06,197.98 329.94,197.07 C330.81,196.16 331.37,194.23 331.77,192.67 C332.17,191.11 332.78,188.79 332.32,187.72 C331.86,186.65 330.12,186.81 329.02,186.26 C327.92,185.71 325.72,184.42 325.72,184.42Z" fill="#a9a9a9"/>
<path d="M394.62,386.38 C394.48,384.92 395.30,382.58 395.50,381.12 C395.70,379.67 395.85,377.62 395.85,377.62 C395.85,377.62 396.20,382.00 397.60,382.00 C399.00,382.00 401.98,379.23 404.25,377.62 C406.52,376.02 409.21,374.42 411.25,372.38 C413.29,370.33 415.04,367.71 416.50,365.38 C417.96,363.04 418.89,360.33 420.00,358.38 C421.11,356.42 423.15,353.65 423.15,353.65 C423.15,353.65 425.48,356.92 427.00,357.50 C428.52,358.08 429.92,357.73 432.25,357.15 C434.58,356.57 437.50,355.05 441.00,354.00 C444.50,352.95 449.75,351.00 453.25,350.85 C456.75,350.70 458.21,352.07 462.00,353.12 C465.79,354.18 471.33,356.13 476.00,357.15 C480.67,358.17 486.50,358.46 490.00,359.25 C493.50,360.04 495.10,360.71 497.00,361.88 C498.90,363.04 499.92,364.50 501.38,366.25 C502.83,368.00 504.44,370.19 505.75,372.38 C507.06,374.56 508.23,377.19 509.25,379.38 C510.27,381.56 511.52,383.75 511.88,385.50 C512.23,387.25 511.35,389.88 511.35,389.88 C511.35,389.88 509.16,387.10 508.38,385.50 C507.59,383.90 507.21,381.71 506.62,380.25 C506.04,378.79 505.02,375.88 504.88,376.75 C504.73,377.62 505.46,382.88 505.75,385.50 C506.04,388.12 506.33,390.46 506.62,392.50 C506.92,394.54 507.35,395.42 507.50,397.75 C507.65,400.08 507.65,404.17 507.50,406.50 C507.35,408.83 506.62,411.75 506.62,411.75 C506.62,411.75 500.50,412.62 500.50,412.62 C500.50,412.62 501.90,411.31 502.25,409.12 C502.60,406.94 503.04,401.69 502.60,399.50 C502.16,397.31 499.62,396.00 499.62,396.00 C499.62,396.00 498.95,400.67 498.75,403.00 C498.55,405.33 498.69,408.40 498.40,410.00 C498.11,411.60 497.00,412.62 497.00,412.62 C497.00,412.62 490.88,412.10 490.88,412.10 C490.88,412.10 492.92,410.93 493.50,409.12 C494.08,407.32 494.67,403.44 494.38,401.25 C494.08,399.06 493.06,397.60 491.75,396.00 C490.44,394.40 488.54,391.77 486.50,391.62 C484.46,391.48 482.12,394.25 479.50,395.12 C476.88,396.00 473.67,396.88 470.75,396.88 C467.83,396.88 464.62,395.85 462.00,395.12 C459.38,394.40 456.90,392.65 455.00,392.50 C453.10,392.35 451.94,393.08 450.62,394.25 C449.31,395.42 447.80,396.88 447.12,399.50 C446.45,402.12 446.60,407.90 446.60,410.00 C446.60,412.10 447.12,412.10 447.12,412.10 C447.12,412.10 440.12,412.62 440.12,412.62 C440.12,412.62 441.50,411.31 441.88,409.12 C442.25,406.94 442.49,401.40 442.40,399.50 C442.31,397.60 441.35,397.75 441.35,397.75 C441.35,397.75 441.00,406.65 440.65,409.12 C440.30,411.60 439.25,412.62 439.25,412.62 C439.25,412.62 433.12,412.62 433.12,412.62 C433.12,412.62 435.17,411.31 435.75,409.12 C436.33,406.94 436.92,402.42 436.62,399.50 C436.33,396.58 435.90,392.79 434.00,391.62 C432.10,390.46 428.46,392.41 425.25,392.50 C422.04,392.59 418.54,392.44 414.75,392.15 C410.96,391.86 405.56,391.13 402.50,390.75 C399.44,390.37 397.69,390.60 396.38,389.88 C395.06,389.15 394.77,387.83 394.62,386.38Z" fill="#a9a9a9"/>
<path d="M217.00,439.67 C217.33,438.75 215.94,437.17 215.33,435.83 C214.72,434.50 213.72,432.86 213.33,431.67 C212.94,430.47 213.03,429.56 213.00,428.67 C212.97,427.78 213.17,426.33 213.17,426.33 C213.17,426.33 211.83,426.78 211.67,426.33 C211.50,425.89 211.94,424.56 212.17,423.67 C212.39,422.78 212.94,421.89 213.00,421.00 C213.06,420.11 212.50,418.33 212.50,418.33 C212.50,418.33 211.92,419.28 211.67,420.00 C211.42,420.72 211.25,422.00 211.00,422.67 C210.75,423.33 210.17,424.00 210.17,424.00 C210.17,424.00 210.11,421.94 209.83,420.67 C209.56,419.39 208.97,417.50 208.50,416.33 C208.03,415.17 207.47,414.39 207.00,413.67 C206.53,412.94 205.67,412.00 205.67,412.00 C205.67,412.00 206.17,414.28 206.33,415.33 C206.50,416.39 206.75,417.33 206.67,418.33 C206.58,419.33 206.08,420.56 205.83,421.33 C205.58,422.11 205.17,423.00 205.17,423.00 C205.17,423.00 204.78,421.33 204.50,420.33 C204.22,419.33 203.92,418.03 203.50,417.00 C203.08,415.97 202.53,415.00 202.00,414.17 C201.47,413.33 200.33,412.00 200.33,412.00 C200.33,412.00 201.03,414.28 201.33,415.33 C201.64,416.39 202.06,417.56 202.17,418.33 C202.28,419.11 202.36,419.44 202.00,420.00 C201.64,420.56 200.00,421.67 200.00,421.67 C200.00,421.67 201.67,421.78 202.17,422.33 C202.67,422.89 202.78,424.22 203.00,425.00 C203.22,425.78 203.78,426.83 203.50,427.00 C203.22,427.17 202.08,426.28 201.33,426.00 C200.58,425.72 199.00,425.33 199.00,425.33 C199.00,425.33 199.22,427.33 199.67,428.33 C200.11,429.33 201.33,430.64 201.67,431.33 C202.00,432.03 202.08,431.61 201.67,432.50 C201.25,433.39 200.28,435.56 199.17,436.67 C198.06,437.78 197.36,438.61 195.00,439.17 C192.64,439.72 188.33,439.72 185.00,440.00 C181.67,440.28 178.33,440.97 175.00,440.83 C171.67,440.69 168.06,439.44 165.00,439.17 C161.94,438.89 159.03,438.61 156.67,439.17 C154.31,439.72 152.22,441.11 150.83,442.50 C149.44,443.89 148.61,445.56 148.33,447.50 C148.06,449.44 148.61,452.22 149.17,454.17 C149.72,456.11 151.67,459.17 151.67,459.17 C151.67,459.17 152.78,462.08 152.50,463.33 C152.22,464.58 151.25,465.28 150.00,466.67 C148.75,468.06 146.11,469.44 145.00,471.67 C143.89,473.89 143.83,476.94 143.33,480.00 C142.83,483.06 142.28,487.64 142.00,490.00 C141.72,492.36 141.17,493.06 141.67,494.17 C142.17,495.28 144.11,496.11 145.00,496.67 C145.89,497.22 147.00,497.50 147.00,497.50 C147.00,497.50 146.11,494.86 145.83,493.33 C145.56,491.81 145.06,490.83 145.33,488.33 C145.61,485.83 146.58,480.83 147.50,478.33 C148.42,475.83 150.83,473.33 150.83,473.33 C150.83,473.33 153.19,478.89 154.17,481.67 C155.14,484.44 156.11,487.92 156.67,490.00 C157.22,492.08 156.94,493.19 157.50,494.17 C158.06,495.14 159.31,495.69 160.00,495.83 C160.69,495.97 161.67,495.00 161.67,495.00 C161.67,495.00 160.50,492.50 159.67,490.00 C158.83,487.50 157.44,483.06 156.67,480.00 C155.89,476.94 154.44,474.17 155.00,471.67 C155.56,469.17 158.47,466.94 160.00,465.00 C161.53,463.06 161.94,460.56 164.17,460.00 C166.39,459.44 170.69,461.11 173.33,461.67 C175.97,462.22 178.61,461.67 180.00,463.33 C181.39,465.00 181.25,468.61 181.67,471.67 C182.08,474.72 182.50,478.33 182.50,481.67 C182.50,485.00 182.03,489.72 181.67,491.67 C181.31,493.61 180.06,492.72 180.33,493.33 C180.61,493.94 182.42,494.92 183.33,495.33 C184.25,495.75 185.83,495.83 185.83,495.83 C185.83,495.83 185.00,491.25 185.00,488.33 C185.00,485.42 185.83,478.33 185.83,478.33 C185.83,478.33 186.19,485.69 186.33,488.33 C186.47,490.97 185.92,492.83 186.67,494.17 C187.42,495.50 190.83,496.33 190.83,496.33 C190.83,496.33 192.03,496.06 191.67,495.00 C191.31,493.94 189.28,492.50 188.67,490.00 C188.06,487.50 187.92,483.33 188.00,480.00 C188.08,476.67 188.69,472.64 189.17,470.00 C189.64,467.36 189.72,466.39 190.83,464.17 C191.94,461.94 194.03,459.03 195.83,456.67 C197.64,454.31 200.00,452.08 201.67,450.00 C203.33,447.92 204.58,445.69 205.83,444.17 C207.08,442.64 207.92,441.31 209.17,440.83 C210.42,440.36 212.03,441.53 213.33,441.33 C214.64,441.14 216.67,440.58 217.00,439.67Z" fill="#a9a9a9"/>

<circle cx="62.5" cy="61" r="39.2" fill="#1f5a33"/>
<g>
<path d="M57,73.4 C53,71.8 50,69.8 48.2,68 C45,65.2 42.5,62.5 41,60.2" fill="none" stroke="#fff" stroke-width="3.2" stroke-linecap="round"/>
<path d="M48.2,68 C45,65.2 42.5,62.5 41,60 C39.3,57.3 38,54 37.7,50 C37.4,46 38.3,42.5 39.4,39.6 C40,37.8 40.7,36 41.2,34.6" fill="none" stroke="#fff" stroke-width="2.3" stroke-linecap="round"/>
<path d="M38.2,44.5 C37.8,41 38,38 38.4,35.2" fill="none" stroke="#fff" stroke-width="1.6" stroke-linecap="round"/>
<path d="M38.6,48.8 C40.3,46.5 42,44.2 43.5,41.6" fill="none" stroke="#fff" stroke-width="1.7" stroke-linecap="round"/>
<path d="M38.4,56.6 C37,54.8 35.8,53 34.9,51" fill="none" stroke="#fff" stroke-width="1.8" stroke-linecap="round"/>
<path d="M53,71.8 C50,72.2 46.5,71.8 43.4,70.8" fill="none" stroke="#fff" stroke-width="2" stroke-linecap="round"/>
<path d="M57.4,75 C55,76.4 52.6,77 50.2,77" fill="none" stroke="#fff" stroke-width="2" stroke-linecap="round"/>
<path d="M60,70.4 L45.2,58" fill="none" stroke="#fff" stroke-width="3.2" stroke-dasharray="1.7 0.8"/>
<path d="M60,70.4 L45.2,58" fill="none" stroke="#fff" stroke-width="1.2" stroke-linecap="round"/>
</g>
<g transform="translate(124.4,0) scale(-1,1)">
<path d="M57,73.4 C53,71.8 50,69.8 48.2,68 C45,65.2 42.5,62.5 41,60.2" fill="none" stroke="#fff" stroke-width="3.2" stroke-linecap="round"/>
<path d="M48.2,68 C45,65.2 42.5,62.5 41,60 C39.3,57.3 38,54 37.7,50 C37.4,46 38.3,42.5 39.4,39.6 C40,37.8 40.7,36 41.2,34.6" fill="none" stroke="#fff" stroke-width="2.3" stroke-linecap="round"/>
<path d="M38.2,44.5 C37.8,41 38,38 38.4,35.2" fill="none" stroke="#fff" stroke-width="1.6" stroke-linecap="round"/>
<path d="M38.6,48.8 C40.3,46.5 42,44.2 43.5,41.6" fill="none" stroke="#fff" stroke-width="1.7" stroke-linecap="round"/>
<path d="M38.4,56.6 C37,54.8 35.8,53 34.9,51" fill="none" stroke="#fff" stroke-width="1.8" stroke-linecap="round"/>
<path d="M53,71.8 C50,72.2 46.5,71.8 43.4,70.8" fill="none" stroke="#fff" stroke-width="2" stroke-linecap="round"/>
<path d="M57.4,75 C55,76.4 52.6,77 50.2,77" fill="none" stroke="#fff" stroke-width="2" stroke-linecap="round"/>
<path d="M60,70.4 L45.2,58" fill="none" stroke="#fff" stroke-width="3.2" stroke-dasharray="1.7 0.8"/>
<path d="M60,70.4 L45.2,58" fill="none" stroke="#fff" stroke-width="1.2" stroke-linecap="round"/>
</g>
<path d="M55.9,74 C58.5,73 65.9,73 68.5,74 C69.4,75.8 69.2,78 68.4,80 L65.2,87.5 C64.4,90 63.7,92.5 63.2,94.3 L61.2,94.3 C60.7,92.5 60,90 59.2,87.5 L56,80 C55.2,78 55,75.8 55.9,74Z" fill="#fff"/>

</svg>
<div id="txt" style="position:absolute;left:0;top:0;width:800px;height:600px;will-change:transform;opacity:0.999;">
<div class="t" style="left:119.60px;top:35.10px;font-size:28px;font-weight:bold;color:#1b4f2f;transform:scaleX(0.9372);-webkit-text-stroke:0.3px #1b4f2f;">Wildschwein – der Favorit für Gourmets</div>
<div class="bar"></div>
<div class="t" style="left:122.00px;top:70.81px;font-size:17px;font-weight:normal;color:#fff;transform:scaleX(0.9512);-webkit-text-stroke:0.35px #fff;">So viel Wildbret haben die Deutschen in der vergangenen Jagdsaison* verzehrt</div>
<div class="t" style="left:48.90px;top:45.04px;font-size:14.6px;font-weight:bold;color:#fff;transform:scaleX(0.9154);-webkit-text-stroke:0.3px #fff;">DJV</div>
<div class="t" style="left:431.90px;top:327.39px;font-size:17.5px;font-weight:bold;color:#fff;transform:scaleX(1.0178);">47 %</div>
<div class="t" style="left:209.00px;top:219.99px;font-size:17.5px;font-weight:bold;color:#fff;transform:scaleX(1.0278);">10 %</div>
<div class="t" style="left:275.60px;top:179.79px;font-size:17.5px;font-weight:bold;color:#fff;transform:scaleX(1.0082);">5 %</div>
<div class="t" style="left:171.80px;top:384.63px;font-size:16.5px;font-weight:bold;color:#6a6775;transform:scaleX(1.0582);">38 %</div>
<div class="t" style="left:286.40px;top:312.06px;font-size:16px;font-weight:normal;color:#5c5c66;transform:scaleX(1.0283);">Gesamt</div>
<div class="t" style="left:260.60px;top:327.77px;font-size:35px;font-weight:bold;color:#3f8f28;transform:scaleX(1.0070);">25.052</div>
<div class="t" style="left:287.00px;top:364.26px;font-size:16px;font-weight:normal;color:#5c5c66;transform:scaleX(1.0667);">Tonnen</div>
<div class="t" style="left:615.60px;top:296.93px;font-size:16.5px;font-weight:normal;color:#5c5c66;transform:scaleX(1.0546);">Wildschwein</div>
<div class="t" style="left:615.60px;top:327.23px;font-size:16.5px;font-weight:normal;color:#5c5c66;transform:scaleX(0.9151);">Reh</div>
<div class="t" style="left:615.60px;top:358.23px;font-size:16.5px;font-weight:normal;color:#5c5c66;transform:scaleX(1.0160);">Rothirsch</div>
<div class="t" style="left:615.60px;top:393.63px;font-size:16.5px;font-weight:normal;color:#5c5c66;transform:scaleX(1.0120);">Damhirsch</div>
<div class="t" style="left:23.00px;top:555.76px;font-size:9.5px;font-weight:normal;color:#a0a7a2;transform:scaleX(0.9795);">* 1.4.2022–31.3.2023</div>
<div class="t" style="left:23.00px;top:570.87px;font-size:9.6px;font-weight:normal;color:#a0a7a2;transform:scaleX(0.9303);">Quelle: Deutscher Jagdverband</div>
<div class="t" style="left:691.31px;top:571.07px;font-size:9.6px;font-weight:normal;color:#21522f;transform:scaleX(0.9636);-webkit-text-stroke:0.3px #21522f;">www.jagdverband.de</div>
</div>
<div class="sw" style="top:300.3px;background:#46922e;border:0.6px solid #2f8418;box-sizing:border-box;"></div>
<div class="sw" style="top:331.1px;background:#c5dbb8;border:0.6px solid #b4d0a4;box-sizing:border-box;"></div>
<div class="sw" style="top:363.2px;background:#1f5133;border:0.6px solid #123f24;box-sizing:border-box;"></div>
<div class="sw" style="top:397.4px;background:#80a488;border:0.6px solid #6c9576;box-sizing:border-box;"></div>

</body></html>
